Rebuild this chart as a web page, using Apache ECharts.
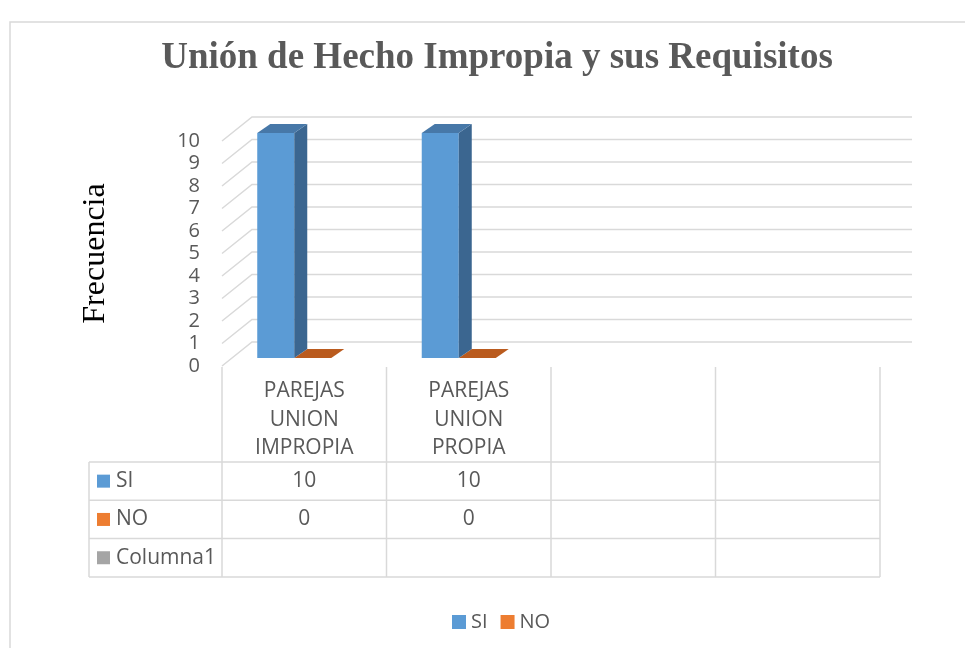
<!DOCTYPE html>
<html>
<head>
<meta charset="utf-8">
<script src="https://cdn.jsdelivr.net/npm/echarts@6/dist/echarts.min.js"></script>
<style>
  html, body { margin: 0; padding: 0; background: #fff; }
  #chart { width: 965px; height: 648px; }
</style>
</head>
<body>
<div id="chart"></div>
<script>
// datos del grafico
var categories = ['PAREJAS\nUNION\nIMPROPIA', 'PAREJAS\nUNION\nPROPIA', '', ''];
var siValues = [10, 10, null, null];
var noValues = [0, 0, null, null];
var columna1Values = [null, null, null, null];
var yTicks = [0, 1, 2, 3, 4, 5, 6, 7, 8, 9, 10];
var rowNames = ['SI', 'NO', 'Columna1'];

var dom = document.getElementById('chart');
var myChart = echarts.init(dom);

var gray = '#595959';
var lineGray = '#D9D9D9';
var sans = '"Open Sans", Lato, sans-serif';
var fs = 21;
// desplazamiento de la pared del fondo (efecto 3D)
var wallDx = 30, wallDy = -24;
// profundidad de las barras
var barDx = 13, barDy = -9;

function bar3d(seriesIdx, colors) {
    return function(params, api) {
        var v = api.value(1);
        if (v == null || isNaN(v)) return;
        var top = api.coord([api.value(0), v]);
        var base = api.coord([api.value(0), 0]);
        var band = api.size([1, 0])[0];
        var bw = band * 0.225;
        var left = top[0] - bw * 1.27 + seriesIdx * bw;
        var right = left + bw;
        var yt = top[1] - 8;
        var yb = base[1] - 8;
        return {
            type: 'group',
            children: [{
                type: 'rect',
                shape: { x: left, y: yt, width: bw, height: yb - yt },
                style: { fill: colors[0] }
            }, {
                type: 'polygon',
                shape: { points: [[right, yt], [right + barDx, yt + barDy], [right + barDx, yb + barDy], [right, yb]] },
                style: { fill: colors[1] }
            }, {
                type: 'polygon',
                shape: { points: [[left, yt], [left + barDx, yt + barDy], [right + barDx, yt + barDy], [right, yt]] },
                style: { fill: colors[2] }
            }]
        };
    };
}

var option = {
    animation: false,
    title: {
        text: 'Unión de Hecho Impropia y sus Requisitos',
        left: 492,
        textAlign: 'center',
        top: 35,
        textStyle: {
            fontFamily: '"Liberation Serif", "DejaVu Serif", serif',
            fontWeight: 'bold',
            fontSize: 37,
            color: gray
        }
    },
    legend: {
        data: ['SI', 'NO'],
        left: 447,
        top: 607,
        icon: 'rect',
        itemWidth: 14,
        itemHeight: 14,
        itemGap: 13,
        itemTextGap: 6,
        textStyle: { fontFamily: sans, fontSize: 20, color: gray }
    },
    grid: { left: 222, right: 85, top: 141, bottom: 282 },
    xAxis: {
        type: 'category',
        data: categories,
        axisLine: { show: false },
        axisTick: { show: false },
        axisLabel: {
            interval: 0,
            margin: 11,
            lineHeight: 28.5,
            fontFamily: sans,
            fontSize: fs,
            color: gray
        }
    },
    yAxis: {
        type: 'value',
        min: 0,
        max: 10,
        interval: 1,
        name: 'Frecuencia',
        nameLocation: 'middle',
        nameGap: 110,
        nameRotate: 90,
        nameTextStyle: {
            fontFamily: '"Liberation Serif", "DejaVu Serif", serif',
            fontSize: 32,
            color: '#000'
        },
        splitLine: { show: false },
        axisLine: { show: false },
        axisTick: { show: false },
        axisLabel: { margin: 22, fontFamily: sans, fontSize: 20, color: gray }
    },
    series: [{
        // lineas de la cuadricula (suelo + pared del fondo)
        type: 'custom',
        name: 'grid',
        silent: true,
        z: 1,
        data: yTicks.map(function(t) { return [0, t]; }),
        renderItem: function(params, api) {
            var cs = params.coordSys;
            var p = api.coord([0, api.value(1)]);
            return {
                type: 'polyline',
                shape: { points: [[cs.x, p[1]], [cs.x + wallDx, p[1] + wallDy], [cs.x + cs.width + wallDx + 2, p[1] + wallDy]] },
                style: { stroke: lineGray, lineWidth: 1.5, fill: null }
            };
        }
    }, {
        type: 'custom',
        name: 'NO',
        z: 3,
        itemStyle: { color: '#ED7D31' },
        data: noValues.map(function(v, i) { return [i, v]; }),
        renderItem: bar3d(1, ['#ED7D31', '#A9561E', '#BA5B1E'])
    }, {
        type: 'custom',
        name: 'SI',
        z: 4,
        itemStyle: { color: '#5B9BD5' },
        data: siValues.map(function(v, i) { return [i, v]; }),
        renderItem: bar3d(0, ['#5B9BD5', '#3B6690', '#4778A8'])
    }]
};

myChart.setOption(option, true);

// tabla de datos debajo del grafico
function buildTable() {
    var xs = categories.map(function(c, i) { return myChart.convertToPixel({ xAxisIndex: 0 }, i); });
    var y0 = myChart.convertToPixel({ yAxisIndex: 0 }, 0);
    var band = xs.length > 1 ? xs[1] - xs[0] : 160;
    var xLeft = xs[0] - band / 2;
    var xRight = xs[xs.length - 1] + band / 2;
    var tableLeft = 89;
    var rowTop = 462, rowH = 38.3;
    var rows = [siValues, noValues, columna1Values];
    var keyColors = ['#5B9BD5', '#ED7D31', '#A5A5A5'];
    var els = [];
    var ls = { stroke: lineGray, lineWidth: 1.5 };

    // marco exterior
    els.push({
        type: 'rect', shape: { x: 10, y: 22, width: 1000, height: 700 },
        style: { stroke: lineGray, lineWidth: 1.5, fill: null }, silent: true
    });
    for (var k = 0; k <= categories.length; k++) {
        var x = xLeft + k * band;
        els.push({ type: 'line', shape: { x1: x, y1: y0 + 1, x2: x, y2: rowTop + rowH * 3 }, style: ls });
    }
    els.push({ type: 'line', shape: { x1: tableLeft, y1: rowTop, x2: tableLeft, y2: rowTop + rowH * 3 }, style: ls });
    for (var r = 0; r <= rows.length; r++) {
        var y = rowTop + r * rowH;
        els.push({ type: 'line', shape: { x1: tableLeft, y1: y, x2: xRight, y2: y }, style: ls });
    }
    rows.forEach(function(vals, r) {
        var cy = rowTop + r * rowH + rowH / 2;
        els.push({ type: 'rect', shape: { x: 97, y: cy - 6.5, width: 13, height: 13 }, style: { fill: keyColors[r] } });
        els.push({
            type: 'text', x: 116, y: cy,
            style: { text: rowNames[r], fill: gray, fontFamily: sans, fontSize: fs, verticalAlign: 'middle' }
        });
        vals.forEach(function(v, i) {
            if (v == null) return;
            els.push({
                type: 'text', x: xs[i], y: cy,
                style: { text: String(v), fill: gray, fontFamily: sans, fontSize: fs, align: 'center', verticalAlign: 'middle' }
            });
        });
    });
    myChart.setOption({ graphic: [{ type: 'group', silent: true, children: els }] });
}
buildTable();

window.addEventListener('resize', function() {
    myChart.resize();
    buildTable();
});
</script>
</body>
</html>
